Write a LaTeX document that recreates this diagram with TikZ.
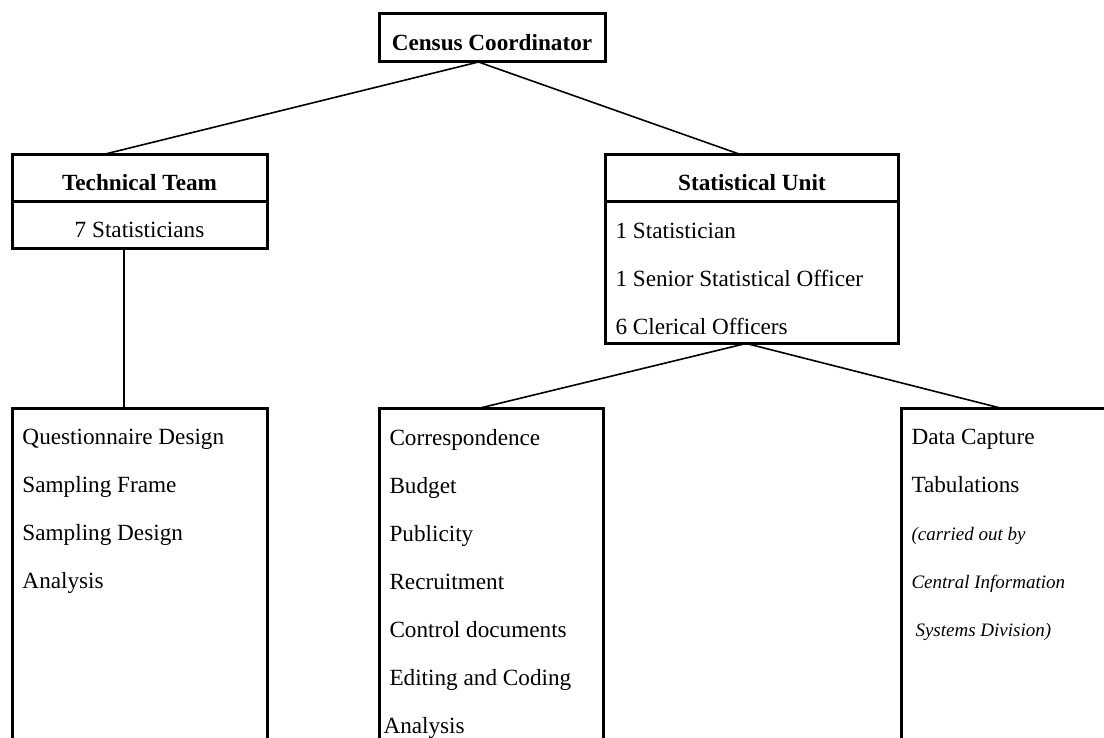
\documentclass[tikz,border=0pt]{standalone}
\usepackage{fontspec}
\setmainfont{Liberation Serif}
\usetikzlibrary{positioning,calc}

\newcommand{\smallit}[1]{{\fontsize{9.5pt}{24pt}\selectfont\itshape #1}}

\begin{document}
\begin{tikzpicture}[
  x=1pt,y=1pt,
  every node/.style={font=\fontsize{11.6pt}{24pt}\selectfont,inner sep=0pt,outer sep=0pt},
  staffbox/.style={draw,line width=1.5pt},
  lowtext/.style={text height=12.5pt,text depth=0pt},
  titlebox/.style={staffbox,lowtext,font=\fontsize{11.6pt}{24pt}\selectfont\bfseries},
  dutybox/.style={staffbox,anchor=north west,minimum height=220pt},
  dutylist/.style={align=left},
  link/.style={line width=.8pt},
  node distance=10.5pt and 5pt
]
  \useasboundingbox (0,0) rectangle (552,-369);
  \clip (0,0) rectangle (552,-369);

  % top of the chart
  \node[titlebox,minimum width=113pt,minimum height=24pt] (coord) at (246,-19) {Census Coordinator};

  % technical team
  \node[titlebox,minimum width=127.5pt,minimum height=23.5pt] (techhead) at (69.75,-89.25) {Technical Team};
  \node[staffbox,lowtext,minimum width=127.5pt,minimum height=23pt,below=0pt of techhead] (techstaff) {7 Statisticians};

  % statistical unit
  \node[titlebox,minimum width=146.5pt,minimum height=23.75pt] (unithead) at (376,-89.1) {Statistical Unit};
  \node[staffbox,minimum width=146.5pt,minimum height=70.75pt,below=0pt of unithead] (unitstaff) {};
  \node[dutylist,below right=of unitstaff.north west] (unitlist)
    {1 Statistician\\1 Senior Statistical Officer\\6 Clerical Officers};

  % duties
  \node[dutybox,minimum width=127.5pt] (techduty) at (6.25,-204.25) {};
  \node[dutybox,minimum width=112pt] (opsduty) at (189.75,-204.25) {};
  \node[dutybox,minimum width=112pt] (cisduty) at (450.75,-204.25) {};

  \node[dutylist,below right=of techduty.north west] (techlist)
    {Questionnaire Design\\Sampling Frame\\Sampling Design\\Analysis};
  \node[dutylist,below right=of opsduty.north west] (opslist)
    {Correspondence\\Budget\\Publicity\\Recruitment\\Control documents\\Editing and Coding\\\hspace*{-3pt}Analysis};
  \node[dutylist,below right=of cisduty.north west] (cislist)
    {Data Capture\\Tabulations\\\smallit{(carried out by}\\\smallit{Central Information}\\\smallit{\hspace*{2pt}Systems Division)}};

  % connectors
  \coordinate (coordfoot) at ($(coord.south west)!.44!(coord.south east)$);
  \draw[link] (coordfoot) -- ($(techhead.north west)!.35!(techhead.north east)$);
  \draw[link] (coordfoot) -- ($(unithead.north west)!.46!(unithead.north east)$);

  \coordinate (techfoot) at ($(techstaff.south west)!.44!(techstaff.south east)$);
  \draw[link] (techfoot) -- (techfoot |- techduty.north);

  \coordinate (unitfoot) at ($(unitstaff.south west)!.48!(unitstaff.south east)$);
  \draw[link] (unitfoot) -- ($(opsduty.north west)!.44!(opsduty.north east)$);
  \draw[link] (unitfoot) -- ($(cisduty.north west)!.45!(cisduty.north east)$);
\end{tikzpicture}
\end{document}
